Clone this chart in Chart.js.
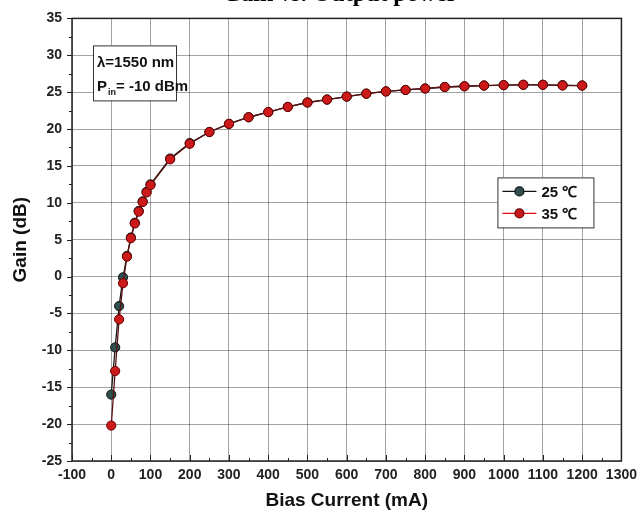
<!DOCTYPE html>
<html>
<head>
<meta charset="utf-8">
<script src="https://cdn.jsdelivr.net/npm/chart.js@4"></script>
<style>
  html, body { margin: 0; padding: 0; background: #fff; }
  #wrap { width: 643px; height: 512px; }
</style>
</head>
<body>
<div id="wrap"><canvas id="gain-chart" width="643" height="512"></canvas></div>
<script>
// Bias current (mA) for each measured point
const biasCurrent = [0, 10, 20, 30, 40, 50, 60, 70, 80, 90, 100, 150, 200, 250, 300, 350, 400,
    450, 500, 550, 600, 650, 700, 750, 800, 850, 900, 950, 1000, 1050, 1100, 1150, 1200];

// Gain (dB) at 25 °C
const gain25 = [-16.0, -9.6, -4.0, -0.1, 2.8, 5.3, 7.3, 8.9, 10.2, 11.5, 12.5, 16.0, 18.1, 19.6, 20.7,
    21.6, 22.3, 23.0, 23.6, 24.0, 24.4, 24.8, 25.1, 25.3, 25.5, 25.7, 25.8, 25.9, 25.95, 26.0, 26.0, 25.95, 25.9];

// Gain (dB) at 35 °C
const gain35 = [-20.2, -12.8, -5.8, -0.9, 2.7, 5.2, 7.2, 8.8, 10.1, 11.4, 12.4, 15.9, 18.0, 19.6, 20.7,
    21.6, 22.3, 23.0, 23.6, 24.0, 24.4, 24.8, 25.1, 25.3, 25.5, 25.7, 25.8, 25.9, 25.95, 26.0, 26.0, 25.9, 25.9];

const xTicks = [-100, 0, 100, 200, 300, 400, 500, 600, 700, 800, 900, 1000, 1100, 1200, 1300];
const yTicks = [-25, -20, -15, -10, -5, 0, 5, 10, 15, 20, 25, 30, 35];

const seriesNames = ['25 \u2103', '35 \u2103'];

const sans = "'Liberation Sans', Arial, sans-serif";

function toPoints(ys) {
    return biasCurrent.map((x, i) => ({ x: x, y: ys[i] }));
}

// Marco, ticks menores, titulo, caja de anotacion y leyenda
const decorPlugin = {
    id: 'decor',
    beforeDatasetsDraw(chart) {
        const ctx = chart.ctx;
        const a = chart.chartArea;
        const xs = chart.scales.x;
        const ys = chart.scales.y;
        ctx.save();
        ctx.strokeStyle = '#222';
        ctx.lineWidth = 1;
        // x ticks (hacia dentro)
        for (let v = -100; v <= 1300; v += 50) {
            const px = Math.round(xs.getPixelForValue(v)) + 0.5;
            const len = v % 100 === 0 ? 6 : 3;
            ctx.beginPath();
            ctx.moveTo(px, a.bottom);
            ctx.lineTo(px, a.bottom - len);
            ctx.stroke();
        }
        // y ticks (hacia fuera)
        for (let v = -25; v <= 35; v += 2.5) {
            const py = Math.round(ys.getPixelForValue(v)) + 0.5;
            const len = v % 5 === 0 ? 5 : 3;
            ctx.beginPath();
            ctx.moveTo(a.left, py);
            ctx.lineTo(a.left - len, py);
            ctx.stroke();
        }
        ctx.restore();
    },
    afterDraw(chart) {
        const ctx = chart.ctx;
        const a = chart.chartArea;
        ctx.save();

        // Marco
        ctx.strokeStyle = '#222';
        ctx.lineWidth = 1.5;
        ctx.strokeRect(a.left, a.top, a.right - a.left, a.bottom - a.top);

        // Titulo (cortado arriba)
        ctx.fillStyle = '#000';
        ctx.font = "bold 24px 'Liberation Serif', 'Times New Roman', serif";
        ctx.textAlign = 'center';
        ctx.textBaseline = 'alphabetic';
        ctx.fillText('Gain vs. Output power', 340, 1);

        // Caja de anotacion
        const bx = a.left + 21, by = a.top + 27, bw = 83, bh = 55;
        ctx.fillStyle = '#fff';
        ctx.fillRect(bx, by, bw, bh);
        ctx.strokeStyle = '#333';
        ctx.lineWidth = 1;
        ctx.strokeRect(bx + 0.5, by + 0.5, bw, bh);
        ctx.fillStyle = '#111';
        ctx.textAlign = 'left';
        ctx.font = 'bold 15px ' + sans;
        ctx.fillText('\u03bb=1550 nm', bx + 4, by + 22);
        ctx.fillText('P', bx + 4, by + 46);
        const pw = ctx.measureText('P').width;
        ctx.font = 'bold 9px ' + sans;
        ctx.fillText('in', bx + 5 + pw, by + 50);
        const iw = ctx.measureText('in').width;
        ctx.font = 'bold 15px ' + sans;
        ctx.fillText('= -10 dBm', bx + 5 + pw + iw, by + 46);

        // Leyenda
        const lx = a.right - 124, ly = a.top + 159, lw = 96, lh = 50;
        ctx.fillStyle = '#fff';
        ctx.fillRect(lx, ly, lw, lh);
        ctx.strokeStyle = '#333';
        ctx.strokeRect(lx + 0.5, ly + 0.5, lw, lh);
        const entries = [
            { name: seriesNames[0], line: '#111', fill: '#2f4f4f', border: '#111' },
            { name: seriesNames[1], line: '#e01010', fill: '#c81818', border: '#6a0000' }
        ];
        entries.forEach((e, i) => {
            const cy = ly + 14 + i * 22;
            ctx.strokeStyle = e.line;
            ctx.lineWidth = 1.2;
            ctx.beginPath();
            ctx.moveTo(lx + 5, cy);
            ctx.lineTo(lx + 39, cy);
            ctx.stroke();
            ctx.beginPath();
            ctx.arc(lx + 22, cy, 4.5, 0, Math.PI * 2);
            ctx.fillStyle = e.fill;
            ctx.fill();
            ctx.strokeStyle = e.border;
            ctx.stroke();
            ctx.fillStyle = '#111';
            ctx.font = 'bold 15px ' + sans;
            ctx.textBaseline = 'middle';
            ctx.fillText(e.name, lx + 44, cy + 1);
        });
        ctx.restore();
    }
};

const chart = new Chart(document.getElementById('gain-chart'), {
    type: 'line',
    data: {
        datasets: [{
            label: seriesNames[0],
            data: toPoints(gain25),
            borderColor: '#1a1a1a',
            borderWidth: 1.3,
            backgroundColor: '#2f4f4f',
            pointBorderColor: '#111',
            pointBorderWidth: 1,
            pointRadius: 4.6,
            order: 2
        }, {
            label: seriesNames[1],
            data: toPoints(gain35),
            borderColor: '#5a1010',
            borderWidth: 1.3,
            backgroundColor: '#cc1a1a',
            pointBorderColor: '#6a0000',
            pointBorderWidth: 1,
            pointRadius: 4.6,
            order: 1
        }]
    },
    options: {
        responsive: false,
        animation: false,
        layout: { padding: { top: 15, right: 17, left: 0, bottom: 0 } },
        plugins: {
            legend: { display: false },
            tooltip: { enabled: false }
        },
        scales: {
            x: {
                type: 'linear',
                min: -100,
                max: 1300,
                afterBuildTicks: (s) => { s.ticks = xTicks.map(v => ({ value: v })); },
                afterFit: (s) => { s.height = 51; },
                grid: { color: 'rgba(0,0,0,0.36)', lineWidth: 1, drawTicks: false },
                border: { display: false },
                ticks: {
                    color: '#222',
                    padding: 6,
                    maxRotation: 0,
                    autoSkip: false,
                    callback: (v) => String(v),
                    font: { family: sans, size: 14, weight: 'bold' }
                },
                title: {
                    display: true,
                    text: 'Bias Current (mA)',
                    color: '#111',
                    padding: { top: 2, bottom: 0 },
                    font: { family: sans, size: 19, weight: 'bold' }
                }
            },
            y: {
                min: -25,
                max: 35,
                afterBuildTicks: (s) => { s.ticks = yTicks.map(v => ({ value: v })); },
                afterFit: (s) => { s.width = 72; },
                grid: { color: 'rgba(0,0,0,0.36)', lineWidth: 1, drawTicks: false },
                border: { display: false },
                ticks: {
                    color: '#222',
                    padding: 10,
                    autoSkip: false,
                    callback: (v) => String(v),
                    font: { family: sans, size: 14, weight: 'bold' }
                },
                title: {
                    display: true,
                    text: 'Gain (dB)',
                    color: '#111',
                    padding: { top: 9, bottom: 0 },
                    font: { family: sans, size: 19, weight: 'bold' }
                }
            }
        }
    },
    plugins: [decorPlugin]
});
</script>
</body>
</html>
